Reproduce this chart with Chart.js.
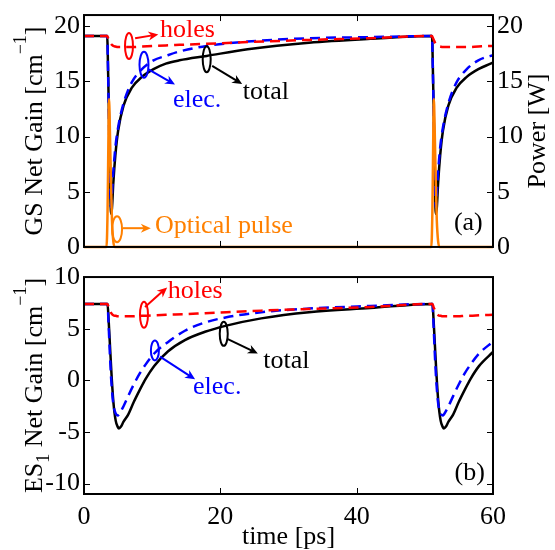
<!DOCTYPE html>
<html>
<head>
<meta charset="utf-8">
<script src="https://cdn.jsdelivr.net/npm/chart.js@4.4.0/dist/chart.umd.min.js"></script>
<style>
  body { margin: 0; background: #fff; }
  #wrap { position: relative; width: 555px; height: 550px; }
  canvas { position: absolute; left: 0; }
</style>
</head>
<body>
<div id="wrap">
  <canvas id="gs" width="555" height="262" style="top:0"></canvas>
  <canvas id="es" width="555" height="288" style="top:262px"></canvas>
</div>
<script>
// tick labels
const timeTicks = [0, 20, 40, 60];
const gsTicks = [0, 5, 10, 15, 20];
const powerTicks = [0, 5, 10, 15, 20];
const esTicks = [-10, -5, 0, 5, 10];

// (a) ground state net gain [cm^-1] vs time [ps]
const tGS = [0, 3.4, 3.55, 3.7, 3.85, 3.96, 4.1, 4.3, 4.6, 5.0,
             5.8, 7.0, 8.5, 10.2, 12, 14, 18, 24, 33, 42,
             51.05, 51.2, 51.35, 51.5, 51.6, 51.75, 51.95, 52.25, 52.65, 53.45,
             54.65, 56.15, 57.85, 59.65, 60];
const gsTotal = [19.1, 19.1, 15.5, 10.5, 5.5, 3.0, 3.5, 5.8, 8.3, 10.5,
                 12.8, 14.4, 15.4, 16.1, 16.6, 16.9, 17.3, 17.9, 18.5, 18.85,
                 19.1, 15.5, 10.5, 5.5, 3.0, 3.5, 5.8, 8.3, 10.5, 12.8,
                 14.4, 15.4, 16.1, 16.6, 16.7];
const gsElec = [19.1, 19.1, 15.2, 10.0, 5.5, 3.6, 4.8, 6.8, 9.0, 10.8,
                13.0, 14.9, 16.1, 16.9, 17.3, 17.7, 18.2, 18.6, 18.9, 19.0,
                19.1, 15.2, 10.0, 5.5, 3.6, 4.8, 6.8, 9.0, 10.8, 13.0,
                14.9, 16.1, 16.9, 17.3, 17.35];
const gsHoles = [19.1, 19.1, 18.9, 18.7, 18.5, 18.4, 18.3, 18.2, 18.15, 18.1,
                 18.1, 18.1, 18.15, 18.2, 18.25, 18.3, 18.4, 18.55, 18.75, 18.9,
                 19.1, 18.9, 18.7, 18.5, 18.4, 18.3, 18.2, 18.15, 18.1, 18.1,
                 18.1, 18.1, 18.15, 18.2, 18.2];

// optical pulse power [W]
const tPulse = [0, 3.3, 3.45, 3.55, 3.67, 3.8, 3.95, 4.1, 4.3, 4.5,
                50.95, 51.1, 51.2, 51.32, 51.45, 51.6, 51.75, 51.95, 52.15, 60];
const pulse = [0, 0, 3, 8, 13.4, 10.5, 6, 2.5, 0.5, 0,
               0, 3, 8, 13.4, 10.5, 6, 2.5, 0.5, 0, 0];

// (b) ES1 net gain [cm^-1]
const tES = [0, 3.45, 3.6, 3.8, 4.0, 4.3, 4.65, 4.95, 5.13, 5.4, 5.8, 6.5,
             7.3, 8.2, 9.0, 10.3, 12.3, 14.8, 17.75, 20.9, 26, 33, 42,
             51.12, 51.27, 51.47, 51.67, 51.97, 52.32, 52.62, 52.8, 53.07,
             53.47, 54.17, 54.97, 55.87, 56.67, 57.97, 60];
const esTotal = [7.4, 7.4, 6.0, 3.5, 1.0, -2.0, -3.9, -4.5, -4.65, -4.5, -4.0, -3.3,
                 -2.1, -0.9, 0.1, 1.4, 2.8, 3.9, 4.7, 5.3, 6.0, 6.6, 7.0,
                 7.4, 6.0, 3.5, 1.0, -2.0, -3.9, -4.5, -4.65, -4.5,
                 -4.0, -3.3, -2.1, -0.9, 0.1, 1.4, 2.75];
const esElec = [7.4, 7.4, 5.5, 2.5, 0, -2.3, -3.2, -3.4, -3.3, -3.0, -2.5, -1.5,
                -0.4, 0.7, 1.5, 2.6, 3.7, 4.8, 5.6, 6.1, 6.6, 6.95, 7.2,
                7.4, 5.5, 2.5, 0, -2.3, -3.2, -3.4, -3.3, -3.0,
                -2.5, -1.5, -0.4, 0.7, 1.5, 2.6, 3.75];
const esHoles = [7.4, 7.4, 7.1, 6.8, 6.5, 6.3, 6.25, 6.2, 6.2, 6.2, 6.2, 6.2,
                 6.2, 6.25, 6.25, 6.3, 6.35, 6.4, 6.5, 6.6, 6.75, 6.9, 7.1,
                 7.4, 7.1, 6.8, 6.5, 6.3, 6.25, 6.2, 6.2, 6.2,
                 6.2, 6.2, 6.2, 6.25, 6.25, 6.3, 6.35];

const RED = '#ff0000', BLUE = '#0000ff', BLACK = '#000000', ORANGE = '#ff8000';
const FONT = '"Liberation Serif", "Times New Roman", serif';
Chart.defaults.font.family = FONT;
Chart.defaults.color = '#000';

// labels, ellipses and arrows, placed in data units
const notesA = [
  { kind: 'ellipse', x: 6.6, y: 18.2, rx: 4, ry: 13, c: RED },
  { kind: 'arrow', x1: 7.5, y1: 18.9, x2: 10.9, y2: 19.25, c: RED },
  { kind: 'text', x: 11.15, y: 19.6, t: 'holes', c: RED },
  { kind: 'ellipse', x: 8.8, y: 16.5, rx: 4.5, ry: 13, c: BLUE },
  { kind: 'arrow', x1: 9.4, y1: 16.1, x2: 13.35, y2: 14.7, c: BLUE },
  { kind: 'text', x: 13.05, y: 13.3, t: 'elec.', c: BLUE },
  { kind: 'ellipse', x: 18.0, y: 17.0, rx: 4, ry: 13, c: BLACK },
  { kind: 'arrow', x1: 18.8, y1: 16.4, x2: 23.2, y2: 14.75, c: BLACK },
  { kind: 'text', x: 23.3, y: 14.0, t: 'total', c: BLACK },
  { kind: 'ellipse', x: 4.85, y: 1.6, rx: 5, ry: 13, c: ORANGE },
  { kind: 'arrow', x1: 5.7, y1: 1.7, x2: 9.8, y2: 1.7, c: ORANGE },
  { kind: 'text', x: 10.4, y: 1.9, t: 'Optical pulse', c: ORANGE },
  { kind: 'text', x: 58.5, y: 2.13, t: '(a)', c: BLACK, align: 'right' }
];
const notesB = [
  { kind: 'ellipse', x: 8.8, y: 6.35, rx: 4, ry: 13, c: RED },
  { kind: 'arrow', x1: 8.95, y1: 7.1, x2: 12.2, y2: 9.0, c: RED },
  { kind: 'text', x: 12.3, y: 8.65, t: 'holes', c: RED },
  { kind: 'ellipse', x: 10.4, y: 2.9, rx: 4, ry: 10, c: BLUE },
  { kind: 'arrow', x1: 11.15, y1: 2.3, x2: 16.3, y2: 0.1, c: BLUE },
  { kind: 'text', x: 16.0, y: -0.7, t: 'elec.', c: BLUE },
  { kind: 'ellipse', x: 20.5, y: 4.5, rx: 4, ry: 12, c: BLACK },
  { kind: 'arrow', x1: 21.1, y1: 4.0, x2: 25.5, y2: 2.6, c: BLACK },
  { kind: 'text', x: 26.3, y: 1.9, t: 'total', c: BLACK },
  { kind: 'text', x: 58.8, y: -8.95, t: '(b)', c: BLACK, align: 'right' }
];

function pts(xs, ys) { return xs.map((x, i) => ({ x: x, y: ys[i] })); }
function fixedTicks(list) { return function (scale) { scale.ticks = list.map(v => ({ value: v })); }; }

// text with super/subscripts, rotated about its centre
function richText(ctx, parts, x, y, size) {
  ctx.save();
  ctx.translate(x, y);
  ctx.rotate(-Math.PI / 2);
  ctx.fillStyle = '#000';
  ctx.textBaseline = 'alphabetic';
  ctx.textAlign = 'left';
  let total = 0;
  parts.forEach(p => {
    ctx.font = (p.s ? Math.round(size * 0.7) : size) + 'px ' + FONT;
    p.w = ctx.measureText(p.t).width;
    total += p.w;
  });
  let cx = -total / 2;
  parts.forEach(p => {
    ctx.font = (p.s ? Math.round(size * 0.7) : size) + 'px ' + FONT;
    const dy = p.s < 0 ? -size * 0.62 : (p.s > 0 ? size * 0.25 : 0);
    ctx.fillText(p.t, cx, dy);
    cx += p.w;
  });
  ctx.restore();
}

function arrow(ctx, x1, y1, x2, y2) {
  const a = Math.atan2(y2 - y1, x2 - x1), L = 10, W = 4.5;
  const c = Math.cos(a), s = Math.sin(a);
  ctx.beginPath();
  ctx.moveTo(x1, y1);
  ctx.lineTo(x2 - c * L * 0.6, y2 - s * L * 0.6);
  ctx.stroke();
  ctx.beginPath();
  ctx.moveTo(x2, y2);
  ctx.lineTo(x2 - L * c + W * s, y2 - L * s - W * c);
  ctx.lineTo(x2 - L * 0.7 * c, y2 - L * 0.7 * s);
  ctx.lineTo(x2 - L * c - W * s, y2 - L * s + W * c);
  ctx.closePath();
  ctx.fill();
}

const framePlugin = {
  id: 'frame',
  afterDatasetsDraw(chart, args, opts) {
    const ctx = chart.ctx, a = chart.chartArea;
    const xs = chart.scales.x, ys = chart.scales.y;
    ctx.save();
    ctx.strokeStyle = '#000';
    ctx.lineWidth = 2;
    ctx.strokeRect(a.left, a.top, a.right - a.left, a.bottom - a.top);
    ctx.lineWidth = 1;
    ctx.beginPath();
    xs.ticks.forEach(t => {
      const p = Math.round(xs.getPixelForValue(t.value)) + 0.5;
      ctx.moveTo(p, a.bottom); ctx.lineTo(p, a.bottom - 6);
      ctx.moveTo(p, a.top); ctx.lineTo(p, a.top + 6);
    });
    ys.ticks.forEach(t => {
      const p = Math.round(ys.getPixelForValue(t.value)) + 0.5;
      ctx.moveTo(a.left, p); ctx.lineTo(a.left + 6, p);
      ctx.moveTo(a.right, p); ctx.lineTo(a.right - 6, p);
    });
    ctx.stroke();

    // annotations
    opts.notes.forEach(n => {
      ctx.strokeStyle = n.c; ctx.fillStyle = n.c; ctx.lineWidth = 2;
      if (n.kind === 'ellipse') {
        ctx.beginPath();
        ctx.ellipse(xs.getPixelForValue(n.x), ys.getPixelForValue(n.y), n.rx, n.ry, 0, 0, 2 * Math.PI);
        ctx.stroke();
      } else if (n.kind === 'arrow') {
        arrow(ctx, xs.getPixelForValue(n.x1), ys.getPixelForValue(n.y1),
              xs.getPixelForValue(n.x2), ys.getPixelForValue(n.y2));
      } else {
        ctx.font = '26px ' + FONT;
        ctx.textAlign = n.align || 'left';
        ctx.textBaseline = 'middle';
        ctx.fillText(n.t, xs.getPixelForValue(n.x), ys.getPixelForValue(n.y));
      }
    });

    // axis titles
    const midY = (a.top + a.bottom) / 2;
    richText(ctx, opts.leftTitle, 42, midY, 26);
    if (opts.rightTitle) richText(ctx, opts.rightTitle, 545, midY, 26);
    ctx.restore();
  }
};

function lineSet(label, data, color, dashed, axis) {
  return {
    label: label, data: data, yAxisID: axis || 'y',
    borderColor: color, borderWidth: 2.5,
    borderDash: dashed ? [10, 6] : [],
    pointRadius: 0, fill: false,
    cubicInterpolationMode: 'monotone', clip: 4
  };
}

function baseOptions(yMin, yMax, yTicks, y2Ticks, showX, xHeight, notes, leftTitle, rightTitle) {
  const yFont = { size: 26, lineHeight: 0.85 };
  return {
    responsive: false, animation: false,
    layout: { padding: { top: 12, left: 0, right: 0, bottom: 0 } },
    plugins: {
      legend: { display: false }, tooltip: { enabled: false },
      frame: { notes: notes, leftTitle: leftTitle, rightTitle: rightTitle }
    },
    scales: {
      x: {
        type: 'linear', min: 0, max: 60,
        afterBuildTicks: fixedTicks(timeTicks),
        grid: { display: false, drawTicks: false }, border: { display: false },
        ticks: { display: showX, padding: 8, font: { size: 26 }, color: '#000' },
        title: { display: showX, text: 'time [ps]', font: { size: 26, lineHeight: 1 }, padding: { top: 0, bottom: 0 }, color: '#000' },
        afterFit: s => { s.height = xHeight; }
      },
      y: {
        position: 'left', min: yMin, max: yMax,
        afterBuildTicks: fixedTicks(yTicks),
        grid: { display: false, drawTicks: false }, border: { display: false },
        ticks: { padding: 4, font: yFont, color: '#000' },
        afterFit: s => { s.width = 84; }
      },
      y2: {
        position: 'right', min: yMin, max: yMax,
        afterBuildTicks: fixedTicks(y2Ticks || yTicks),
        grid: { display: false, drawTicks: false }, border: { display: false },
        ticks: { display: !!y2Ticks, padding: 4, font: yFont, color: '#000' },
        afterFit: s => { s.width = 62; }
      }
    }
  };
}

new Chart(document.getElementById('gs'), {
  type: 'line',
  data: {
    datasets: [
      lineSet('Optical pulse', pts(tPulse, pulse), ORANGE, false, 'y2'),
      lineSet('holes', pts(tGS, gsHoles), RED, true),
      lineSet('elec.', pts(tGS, gsElec), BLUE, true),
      lineSet('total', pts(tGS, gsTotal), BLACK, false)
    ]
  },
  options: baseOptions(0, 21, gsTicks, powerTicks, false, 14, notesA,
    [{ t: 'GS Net Gain [cm', s: 0 }, { t: '\u22121', s: -1 }, { t: ']', s: 0 }],
    [{ t: 'Power [W]', s: 0 }]),
  plugins: [framePlugin]
});

new Chart(document.getElementById('es'), {
  type: 'line',
  data: {
    datasets: [
      lineSet('holes', pts(tES, esHoles), RED, true),
      lineSet('elec.', pts(tES, esElec), BLUE, true),
      lineSet('total', pts(tES, esTotal), BLACK, false)
    ]
  },
  options: baseOptions(-11, 10, esTicks, null, true, 56, notesB,
    [{ t: 'ES', s: 0 }, { t: '1', s: 1 }, { t: ' Net Gain [cm', s: 0 }, { t: '\u22121', s: -1 }, { t: ']', s: 0 }],
    null),
  plugins: [framePlugin]
});
</script>
</body>
</html>
